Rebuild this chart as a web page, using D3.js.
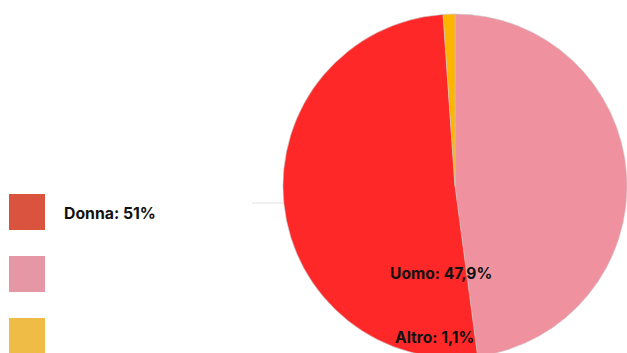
<!DOCTYPE html>
<html><head><meta charset="utf-8">
<script src="https://cdn.jsdelivr.net/npm/d3@7"></script>
<style>body{margin:0;background:#fff;} svg{display:block;} text{font-family:Inter, "Noto Sans", sans-serif;font-weight:700;fill:#111;}</style>
</head><body>
<svg id="c" width="627" height="353"></svg>
<script>
const categories = ["Uomo", "Donna", "Altro"];
const values = [47.9, 51, 1.1];
const labels = ["Uomo: 47,9%", "Donna: 51%", "Altro: 1,1%"];
const pieColors = ["#f0919f", "#ff2828", "#ffb400"];
const legendCats = ["Donna", "Uomo", "Altro"];
const legendColors = ["#d9533f", "#e597a5", "#efbd45"];

const svg = d3.select("#c");
const cx = 455, cy = 186, R = 172;

// faint guide line
svg.append("line").attr("x1", 252).attr("x2", cx - R).attr("y1", 203).attr("y2", 203)
  .attr("stroke", "#e2e2e2").attr("stroke-width", 1);

const pie = d3.pie().sort(null).value(d => d)(values);
const arc = d3.arc().innerRadius(0).outerRadius(R);
const g = svg.append("g").attr("transform", `translate(${cx},${cy})`);
g.selectAll("path").data(pie).join("path")
  .attr("d", arc).attr("fill", (d, i) => pieColors[i])
  .attr("stroke", "#c8c8c8").attr("stroke-width", 0.6);

// labels on pie
svg.append("text").attr("x", 390).attr("y", 279).attr("font-size", 15.6).text(labels[0]);
svg.append("text").attr("x", 395).attr("y", 343).attr("font-size", 15.6).text(labels[2]);

// legend
const ly = d3.scaleBand().domain(legendCats).range([194, 194 + 3 * 62]).paddingInner(0);
svg.selectAll("rect.leg").data(legendCats).join("rect").attr("class", "leg")
  .attr("x", 9).attr("y", d => ly(d)).attr("width", 36).attr("height", 36)
  .attr("fill", (d, i) => legendColors[i]);
svg.append("text").attr("x", 64).attr("y", 219).attr("font-size", 15.8).text(labels[1]);
</script>
</body></html>
